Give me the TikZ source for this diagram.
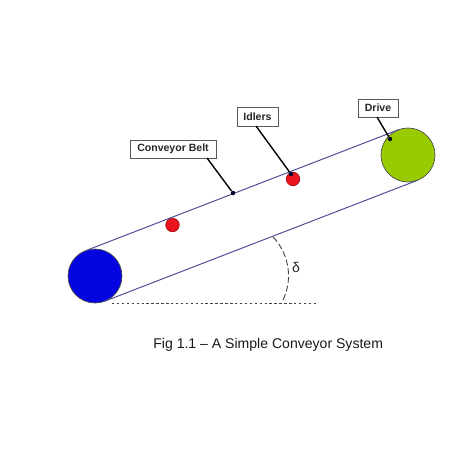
\documentclass[tikz,border=0pt]{standalone}
\usepackage{fontspec}
\setmainfont{Liberation Sans}
\usetikzlibrary{positioning,calc}
\definecolor{PulleyBlue}{RGB}{5,5,225}
\definecolor{DriveGreen}{RGB}{153,204,0}
\definecolor{IdlerRed}{RGB}{235,20,30}
\definecolor{BeltBlue}{RGB}{75,75,150}
\tikzset{
  pulley/.style={circle,draw=black!70,line width=0.4pt,inner sep=0pt,outer sep=0pt,minimum size=1.08cm},
  idler/.style={circle,draw=IdlerRed!70!black,fill=IdlerRed,line width=0.4pt,inner sep=0pt,outer sep=0pt,minimum size=0.27cm},
  tag/.style={draw=black!65,fill=white,line width=0.5pt,inner sep=0pt,outer sep=0pt,font=\bfseries\fontsize{6}{7}\selectfont,text=black!85},
  belt/.style={draw=BeltBlue,line width=0.55pt},
  leader/.style={draw=black,line width=0.8pt},
  tip/.style={circle,fill=black!85!blue,inner sep=0pt,minimum size=0.09cm},
}
\begin{document}
\begin{tikzpicture}[x=0.02cm,y=-0.02cm]
\useasboundingbox (0,0) rectangle (474,474);
% pulleys and idlers
\node[pulley,fill=PulleyBlue] (tail) at (95,276) {};
\node[pulley,fill=DriveGreen] (drive) at (408,155) {};
\node[idler] (idlerA) at (172.5,225) {};
\node[idler] (idlerB) at (293,179) {};
% belt
\draw[belt] (tail.110.9)--(drive.110.9);
\draw[belt] (tail.-69.1)--(drive.-69.1);
% labels
\node[tag,minimum width=1.72cm,minimum height=0.36cm] (beltlab) at (173,149) {Conveyor Belt};
\node[tag,minimum width=0.82cm,minimum height=0.38cm] (idlerlab) at (257.5,116.5) {Idlers};
\node[tag,minimum width=0.8cm,minimum height=0.36cm] (drivelab) at (378,108) {Drive};
\node[tip] (belttip) at (233,193) {};
\node[tip] (idlertip) at (291,174) {};
\node[tip] (drivetip) at (390,139) {};
\draw[leader] (207,158)--(belttip);
\draw[leader] (256,126)--(idlertip);
\draw[leader] (377,117)--(drivetip);
% angle
\coordinate (base) at (112,303);
\coordinate (baseend) at (318,303);
\coordinate (arcstart) at (273,237);
\coordinate (arcend) at (282,302);
\draw[black!75,densely dashed,line width=0.45pt,dash pattern=on 1.4pt off 1.4pt] (base)--(baseend);
\draw[black!75,line width=0.5pt,dash pattern=on 3.5pt off 1.5pt] (arcstart) .. controls (285,249) and (296,275) .. (arcend);
\node[font=\fontsize{8}{9}\selectfont,text=black!85,inner sep=0pt] (angle) at (296,267) {δ};
% caption
\node[font=\fontsize{8}{10}\selectfont,text=black!90,inner sep=0pt,anchor=base west] (caption) at (153,348) {Fig 1.1 – A Simple Conveyor System};
\end{tikzpicture}
\end{document}
